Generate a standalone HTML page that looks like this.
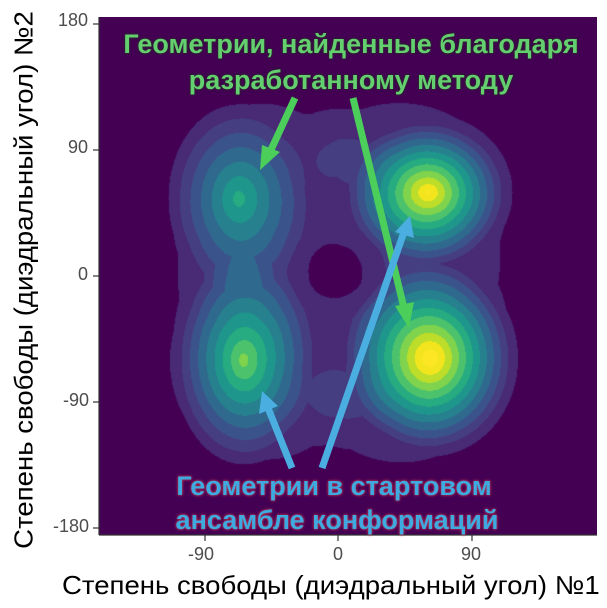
<!DOCTYPE html>
<html><head><meta charset="utf-8"><style>
html,body{margin:0;padding:0;background:#fff;}
body{width:607px;height:608px;position:relative;overflow:hidden;font-family:"Liberation Sans",sans-serif;}
#c{position:absolute;left:99px;top:17px;}
.t{position:absolute;font-size:18px;color:#4d4d4d;}
.ann{position:absolute;font-weight:bold;font-size:27px;white-space:nowrap;text-align:center;transform:translateX(-50%);}
.g{color:#63cf6f;text-shadow:0 0 3px #2a2a2a,0 0 2px #2a2a2a;}
.b{color:#3eaae0;text-shadow:0 0 3px #b03050,0 0 2px #b03050;}
</style></head><body>
<canvas id="c" width="498" height="518"></canvas>
<svg width="607" height="608" style="position:absolute;left:0;top:0">
<g stroke="#333" stroke-width="1.2">
<line x1="99" y1="17" x2="99" y2="535"/>
<line x1="93" y1="24" x2="99" y2="24"/><line x1="93" y1="150" x2="99" y2="150"/>
<line x1="93" y1="276" x2="99" y2="276"/><line x1="93" y1="402" x2="99" y2="402"/>
<line x1="93" y1="528" x2="99" y2="528"/>
<line x1="99" y1="535" x2="597" y2="535"/>
<line x1="205" y1="535" x2="205" y2="541"/><line x1="338" y1="535" x2="338" y2="541"/><line x1="472" y1="535" x2="472" y2="541"/>
</g>
<g stroke-width="7" fill="none" stroke-linecap="butt">
<line x1="295" y1="98" x2="270" y2="152" stroke="#4ccf5a"/>
<line x1="353" y1="98" x2="404" y2="308" stroke="#4ccf5a"/>
<line x1="292" y1="468" x2="268" y2="408" stroke="#4aaee0"/>
<line x1="322" y1="468" x2="404" y2="232" stroke="#4aaee0"/>
</g>
<polygon points="260,170 262,145 280,152" fill="#4ccf5a"/>
<polygon points="409,328 395,306 414,302" fill="#4ccf5a"/>
<polygon points="262,391 259,414 278,406" fill="#4aaee0"/>
<polygon points="410,216 395,232 414,238" fill="#4aaee0"/>
</svg>
<div class="t" style="left:58px;top:10px">180</div>
<div class="t" style="left:68px;top:137px">90</div>
<div class="t" style="left:78px;top:264px">0</div>
<div class="t" style="left:63px;top:390px">-90</div>
<div class="t" style="left:53px;top:516px">-180</div>
<div class="t" style="left:188px;top:544px">-90</div>
<div class="t" style="left:333px;top:544px">0</div>
<div class="t" style="left:461px;top:544px">90</div>
<div style="position:absolute;left:62px;top:570px;font-size:26px;color:#000;white-space:nowrap;transform-origin:0 0;transform:scaleX(1.06)">Степень свободы (диэдральный угол) №1</div>
<div style="position:absolute;left:24px;top:280px;font-size:26px;color:#000;white-space:nowrap;transform:translate(-50%,-50%) rotate(-90deg) scaleX(1.06)">Степень свободы (диэдральный угол) №2</div>
<div class="ann g" style="left:351px;top:29px">Геометрии, найденные благодаря</div>
<div class="ann g" style="left:351px;top:65px">разработанному методу</div>
<div class="ann b" style="left:334px;top:471px">Геометрии в стартовом</div>
<div class="ann b" style="left:337px;top:505px">ансамбле конформаций</div>
<script>
var cv=document.getElementById('c'),ctx=cv.getContext('2d');
var W=498,H=518,ox=99,oy=17;
var G=[[238,198,70,95,0.42],[428,192,80,72,0.8],[243,360,70,105,0.58],[430,358,85,95,0.86],
[238,198,100,125,0.1],[428,192,120,112,0.1],[243,360,105,135,0.1],[430,358,125,140,0.1],
[338,276,170,220,0.1],[338,150,60,45,0.08],[338,405,60,45,0.08]];
var cols=['#440154','#482a75','#453f82','#3b538b','#2f6a8e','#27808e','#1f968b','#27ab80','#4cc26c','#80d34d','#bcdd2a','#f2e51e','#fde725'];
var img=ctx.createImageData(W,H);
function hex(h){return [parseInt(h.substr(1,2),16),parseInt(h.substr(3,2),16),parseInt(h.substr(5,2),16)];}
var rgb=cols.map(hex);
for(var y=0;y<H;y++){for(var x=0;x<W;x++){
var px=x+ox,py=y+oy,d=0;
for(var i=0;i<G.length;i++){var g=G[i],dx=(px-g[0])/g[2],dy=(py-g[1])/g[3],r=Math.sqrt(dx*dx+dy*dy);if(r<1)d+=g[4]*(1-r);}
var hx=(px-337)/26,hy=(py-272)/24,h=Math.sqrt(hx*hx+hy*hy);if(h<2)d-=0.16*(1-h/2);
var k=0;if(d>0.03){k=1+Math.floor((d-0.03)/0.08);if(k>12)k=12;}
var c=rgb[k],p=(y*W+x)*4;img.data[p]=c[0];img.data[p+1]=c[1];img.data[p+2]=c[2];img.data[p+3]=255;}}
ctx.putImageData(img,0,0);
</script>
</body></html>
